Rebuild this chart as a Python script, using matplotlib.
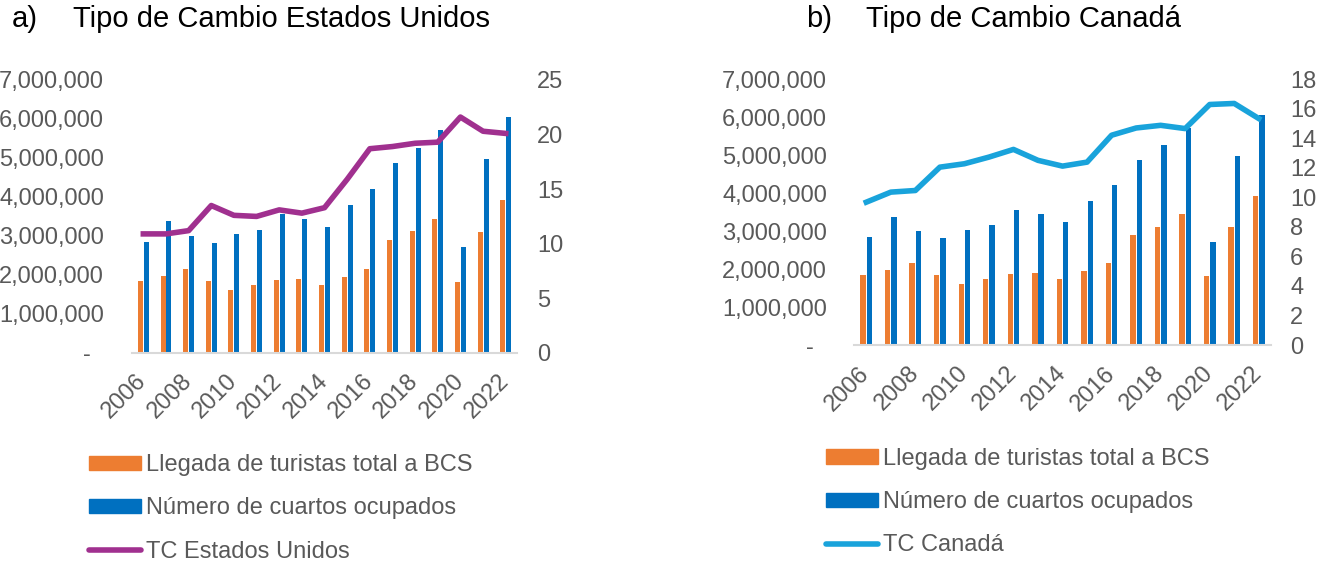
import matplotlib
matplotlib.use("Agg")
import matplotlib.pyplot as plt
from matplotlib.patches import Patch
from matplotlib.lines import Line2D
import numpy as np

plt.rcParams['font.family'] = ['Liberation Sans', 'DejaVu Sans']

years = list(range(2006, 2023))
turistas = [1.84, 1.97, 2.15, 1.84, 1.62, 1.74, 1.88, 1.89, 1.74, 1.94,
            2.15, 2.90, 3.12, 3.44, 1.81, 3.10, 3.93]
cuartos = [2.84, 3.38, 3.01, 2.82, 3.04, 3.15, 3.55, 3.44, 3.24, 3.79,
           4.20, 4.87, 5.26, 5.71, 2.72, 4.97, 6.06]
tc_usa = [10.9, 10.9, 11.2, 13.5, 12.6, 12.5, 13.1, 12.8, 13.3, 15.9,
          18.7, 18.9, 19.2, 19.3, 21.6, 20.3, 20.1]
tc_can = [9.67, 10.35, 10.46, 12.04, 12.27, 12.72, 13.24, 12.5, 12.11, 12.38,
          14.2, 14.69, 14.87, 14.65, 16.28, 16.35, 15.33]

left_ticks = [0, 1e6, 2e6, 3e6, 4e6, 5e6, 6e6, 7e6]
left_labels = ['-  ', '1,000,000', '2,000,000', '3,000,000', '4,000,000',
               '5,000,000', '6,000,000', '7,000,000']

ORANGE = '#ED7D31'
BLUE = '#0070C0'
PURPLE = '#A0308F'
LIGHT = '#19A3DB'
GRAY = '#595959'
FS = 17

fig = plt.figure(figsize=(13.2, 5.62), dpi=100)


def panel(rect, tc, color, rmax, rstep, lpad, rpad, label_tc):
    ax = fig.add_axes(rect)
    x = np.arange(len(years))
    ax.bar(x - 0.13, np.array(turistas) * 1e6, width=0.22, color=ORANGE, zorder=2)
    ax.bar(x + 0.13, np.array(cuartos) * 1e6, width=0.22, color=BLUE, zorder=2)
    ax.set_xlim(-0.5, len(years) - 0.5)
    ax.set_ylim(0, 7e6)
    ax.set_yticks(left_ticks)
    ax.set_yticklabels(left_labels)
    ax.set_xticks(x[::2])
    ax.set_xticklabels([str(y) for y in years[::2]], rotation=45, ha='right',
                       va='center', rotation_mode='anchor')
    ax.tick_params(axis='both', length=0, labelsize=FS, labelcolor=GRAY)
    ax.tick_params(axis='y', pad=lpad)
    ax.tick_params(axis='x', pad=18)
    for s in ['top', 'left', 'right']:
        ax.spines[s].set_visible(False)
    ax.spines['bottom'].set_color('#D9D9D9')
    ax.spines['bottom'].set_linewidth(1.5)

    ax2 = ax.twinx()
    ax2.plot(x, tc, color=color, lw=4, solid_joinstyle='round', zorder=3)
    ax2.set_ylim(0, rmax)
    ax2.set_yticks(np.arange(0, rmax + 0.1, rstep))
    ax2.tick_params(axis='y', length=0, labelsize=FS, labelcolor=GRAY, pad=rpad)
    for s in ax2.spines.values():
        s.set_visible(False)

    handles = [Patch(color=ORANGE, label='Llegada de turistas total a BCS'),
               Patch(color=BLUE, label='Número de cuartos ocupados'),
               Line2D([], [], color=color, lw=4, solid_capstyle='round', label=label_tc)]
    return ax, handles


ax_a, h_a = panel([0.1, 0.372, 0.2917, 0.4858], tc_usa, PURPLE, 25, 5, 20, 14.5,
                  'TC Estados Unidos')
ax_b, h_b = panel([0.647, 0.386, 0.3159, 0.4733], tc_can, LIGHT, 18, 2, 19.5, 13.7,
                  'TC Canadá')

for h, anchor in [(h_a, (0.0674, 0.192)), (h_b, (0.6258, 0.203))]:
    fig.legend(handles=h, loc='upper left', bbox_to_anchor=anchor, frameon=False,
               fontsize=FS, labelcolor=GRAY, handlelength=2.2, handleheight=0.55,
               handletextpad=0.2, labelspacing=0.9, borderaxespad=0, borderpad=0)

fig.text(12 / 1320, 1 - 19 / 562, 'a)', fontsize=21, va='center', color='black')
fig.text(73 / 1320, 1 - 19 / 562, 'Tipo de Cambio Estados Unidos', fontsize=21,
         va='center', color='black')
fig.text(806 / 1320, 1 - 19 / 562, 'b)', fontsize=21, va='center', color='black')
fig.text(866 / 1320, 1 - 19 / 562, 'Tipo de Cambio Canadá', fontsize=21,
         va='center', color='black')

fig.savefig('out.png', dpi=100)
